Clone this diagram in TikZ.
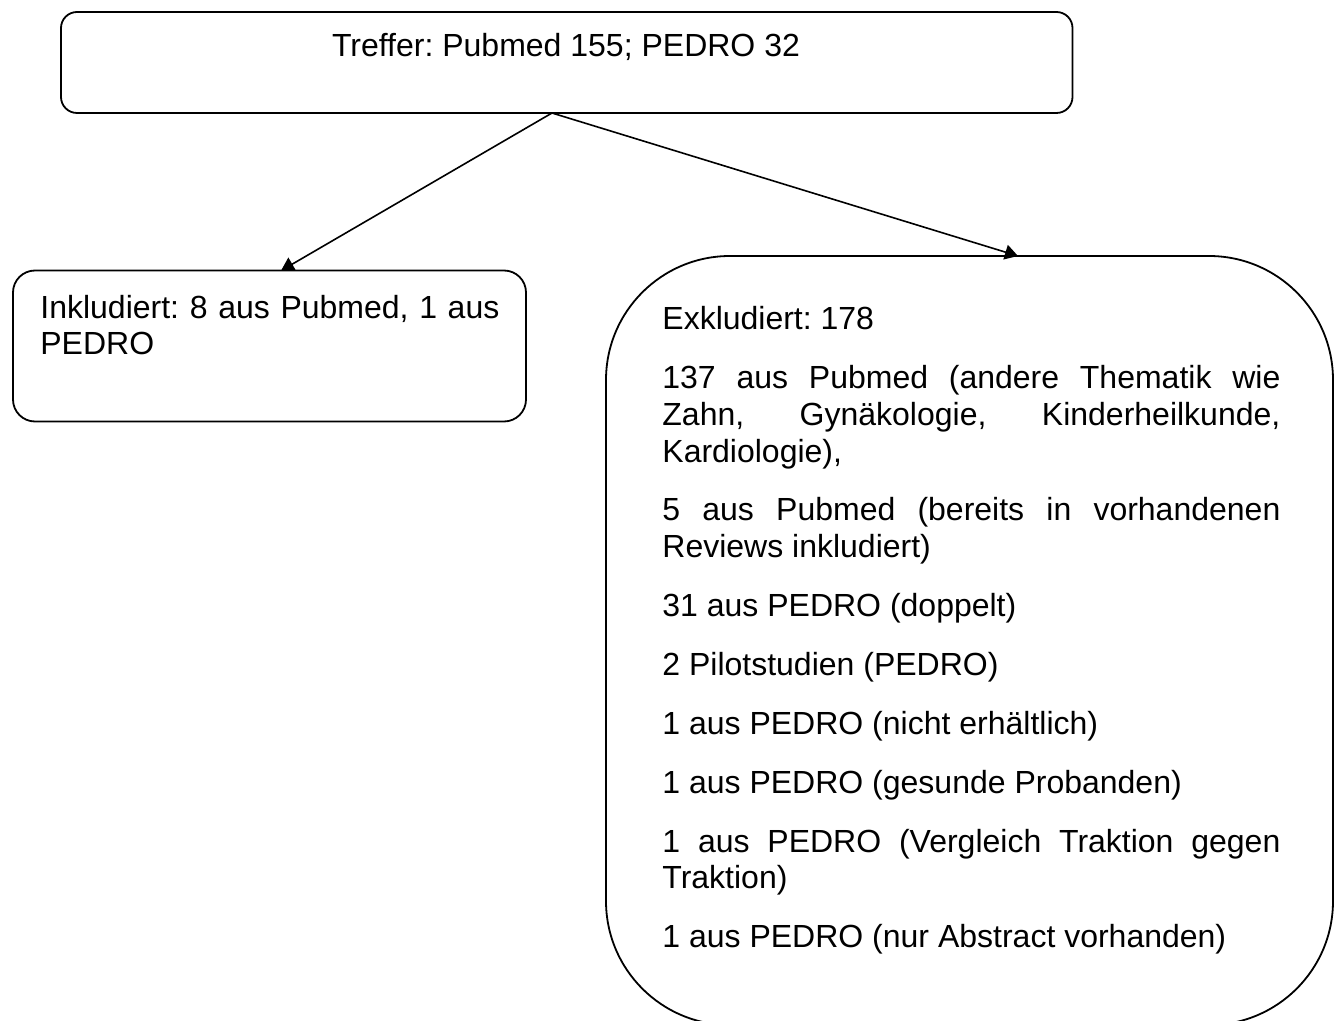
\documentclass[tikz,border=0pt]{standalone}
\usepackage{fontspec}
\setmainfont{Liberation Sans}
\usetikzlibrary{arrows.meta}
\hbadness=10000
\frenchspacing
\begin{document}
\begin{tikzpicture}[x=0.5pt,y=-0.5pt,
  box/.style={draw, line width=0.9pt, rounded corners=#1, inner sep=0pt},
  txt/.style={inner sep=0pt, font=\fontsize{16pt}{18.3pt}\selectfont},
  arr/.style={line width=0.8pt, -{Triangle[length=6.5pt,width=7.5pt]}}
]
\useasboundingbox (0,0) rectangle (1339,1021);
\clip (0,0) rectangle (1339,1021);
% boxes
\node[box=8pt, minimum width=505.75pt, minimum height=50.5pt] (top) at (566.75,62.5) {};
\node[box=11pt, minimum width=256.5pt, minimum height=75.5pt] (inkl) at (269.5,346) {};
\node[box=62pt, minimum width=363.5pt, minimum height=384.5pt] (exkl) at (969.5,640.5) {};
% texts
\node[txt, anchor=base] (toptext) at (566,56.7) {Treffer: Pubmed 155; PEDRO 32};
\node[txt, anchor=base west] (inkltext) at (40,318.3) {\parbox[t]{229.5pt}{\fontsize{16pt}{18.3pt}\selectfont\frenchspacing\hyphenpenalty=10000
Inkludiert: 8 aus Pubmed, 1 aus\linebreak PEDRO}};
\node[txt, anchor=base west] (exkltext) at (662,330) {\parbox[t]{309pt}{\fontsize{16pt}{18.3pt}\selectfont\frenchspacing\setlength{\parskip}{11.15pt}\setlength{\parindent}{0pt}\hyphenpenalty=10000
Exkludiert: 178\par
137 aus Pubmed (andere Thematik wie\linebreak Zahn, Gynäkologie, Kinderheilkunde,\linebreak Kardiologie),\par
5 aus Pubmed (bereits in vorhandenen\linebreak Reviews inkludiert)\par
31 aus PEDRO (doppelt)\par
2 Pilotstudien (PEDRO)\par
1 aus PEDRO (nicht erhältlich)\par
1 aus PEDRO (gesunde Probanden)\par
1 aus PEDRO (Vergleich Traktion gegen\linebreak Traktion)\par
1 aus PEDRO (nur Abstract vorhanden)}};
% connectors
\coordinate (start) at (552,113);
\coordinate (inkltip) at (281,270.7);
\coordinate (exkltip) at (1018,256);
\draw[arr] (start) -- (inkltip);
\draw[arr] (start) -- (exkltip);
\end{tikzpicture}
\end{document}
